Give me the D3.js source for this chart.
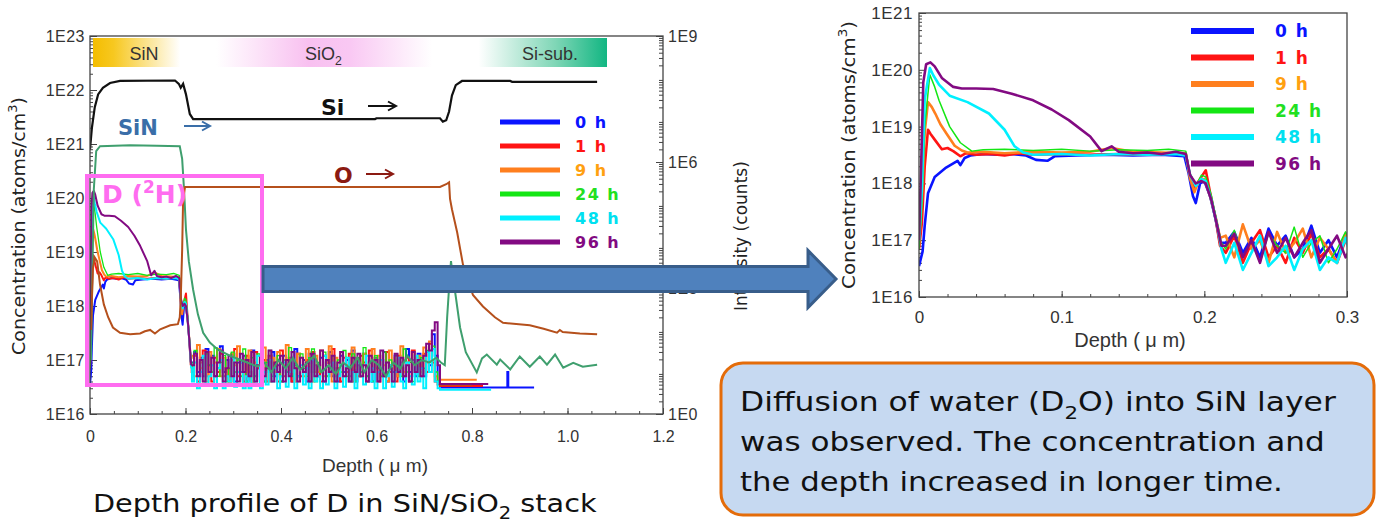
<!DOCTYPE html>
<html>
<head>
<meta charset="utf-8">
<script src="https://cdn.jsdelivr.net/npm/d3@7"></script>
<style>
  body { margin: 0; background: #fff; }
  svg { display: block; }
  .tick text { font-family: "Liberation Sans", Arial, sans-serif; fill: #333; }
  .tick line { stroke: #444; }
</style>
</head>
<body>
<svg id="chart" width="1377" height="522"></svg>
<script>
// ---------- data (depth in um, concentration in atoms/cm3) ----------
const seriesNames = ["0 h", "1 h", "9 h", "24 h", "48 h", "96 h"];
const layerNames = ["SiN", "SiO", "Si-sub."];
const concTicks = [1e16, 1e17, 1e18, 1e19, 1e20, 1e21, 1e22, 1e23];
const intensityTicks = [1, 1e3, 1e6, 1e9];
const depthTicks = [0, 0.2, 0.4, 0.6, 0.8, 1.0, 1.2];
const depthTickLabels = ["0", "0.2", "0.4", "0.6", "0.8", "1.0", "1.2"];
const zoomDepthTicks = [0, 0.1, 0.2, 0.3];
const zoomDepthTickLabels = ["0", "0.1", "0.2", "0.3"];

// D profiles near the surface, 0 - 0.212 um
const d0h = [[0,3.5e16],[0.0025,6.3e16],[0.004,1.8e17],[0.0063,6.7e17],[0.011,1.3e18],[0.019,1.9e18],[0.027,2.5e18],[0.029,2.1e18],[0.032,2.8e18],[0.036,3.1e18],[0.045,3.3e18],[0.055,3.2e18],[0.065,3.3e18],[0.075,3.1e18],[0.082,2.6e18],[0.09,2.5e18],[0.095,3.0e18],[0.11,3.1e18],[0.13,3.2e18],[0.15,3.1e18],[0.17,3.2e18],[0.186,3.0e18],[0.189,1.5e18],[0.192,6e17],[0.194,4.5e17],[0.197,1.0e18],[0.2,1.1e18],[0.204,6e17],[0.208,2.3e17],[0.211,9e16]];
const d1h = [[0,7e16],[0.002,2e17],[0.004,2e18],[0.0063,8.8e18],[0.008,7.5e18],[0.011,5.9e18],[0.016,4e18],[0.02,4.2e18],[0.024,3.7e18],[0.029,3.0e18],[0.033,3.4e18],[0.04,3.2e18],[0.05,3.3e18],[0.06,3.1e18],[0.07,3.4e18],[0.08,3.2e18],[0.1,3.3e18],[0.12,3.2e18],[0.14,3.3e18],[0.16,3.2e18],[0.18,3.4e18],[0.187,3.2e18],[0.19,1.3e18],[0.193,8e17],[0.197,1.2e18],[0.201,1.7e18],[0.204,7e17],[0.208,2.3e17],[0.211,8e16]];
const d9h = [[0,8e16],[0.002,5e17],[0.004,8e18],[0.0063,2.7e19],[0.009,2.2e19],[0.0114,1.7e19],[0.015,1.1e19],[0.019,7.7e18],[0.025,4.6e18],[0.03,3.8e18],[0.034,3.5e18],[0.045,3.6e18],[0.06,3.4e18],[0.08,3.6e18],[0.1,3.5e18],[0.12,3.6e18],[0.135,4.2e18],[0.15,3.6e18],[0.17,3.5e18],[0.187,3.4e18],[0.19,1.2e18],[0.193,7e17],[0.196,1.1e18],[0.2,1.2e18],[0.204,6e17],[0.208,2.5e17],[0.211,1.1e17]];
const d24h = [[0,7e16],[0.002,4e17],[0.004,1e19],[0.0076,8.2e19],[0.011,5e19],[0.014,2.9e19],[0.0215,1e19],[0.029,5.2e18],[0.037,3.7e18],[0.045,3.9e18],[0.06,4.0e18],[0.08,3.8e18],[0.1,4.0e18],[0.12,3.7e18],[0.14,3.9e18],[0.16,3.8e18],[0.175,4.0e18],[0.187,3.7e18],[0.19,1.5e18],[0.194,9e17],[0.198,1.4e18],[0.201,1.3e18],[0.205,6e17],[0.209,2e17],[0.212,9e16]];
const d48h = [[0,1e17],[0.002,8e17],[0.004,3e19],[0.0076,1.07e20],[0.01,8e19],[0.014,5.5e19],[0.0215,3.5e19],[0.034,2.7e19],[0.049,1.7e19],[0.06,8.8e18],[0.067,4.5e18],[0.073,3.5e18],[0.08,3.2e18],[0.1,3.3e18],[0.12,3.1e18],[0.14,3.3e18],[0.16,3.2e18],[0.18,3.3e18],[0.187,3.1e18],[0.19,1.4e18],[0.194,9e17],[0.198,1.2e18],[0.201,1.1e18],[0.205,5e17],[0.209,1.8e17],[0.212,7e16]];
const d96h = [[0,1e17],[0.0015,2e18],[0.003,6e19],[0.005,1.25e20],[0.008,1.35e20],[0.011,1.15e20],[0.016,7.2e19],[0.024,5e19],[0.03,4.7e19],[0.04,4.7e19],[0.052,4.6e19],[0.065,3.8e19],[0.08,2.9e19],[0.093,2.0e19],[0.105,1.3e19],[0.12,6.7e18],[0.128,3.7e18],[0.135,4.5e18],[0.14,3.6e18],[0.15,3.4e18],[0.16,3.5e18],[0.17,3.3e18],[0.18,3.6e18],[0.187,3.3e18],[0.19,1.4e18],[0.194,1e18],[0.198,1.1e18],[0.201,1.0e18],[0.205,5e17],[0.209,1.8e17],[0.212,8e16]];

// background noise in SiO2, read every 0.006 um from 0.215 um (units of 1E16)
const noise0h = [9,14,6,11,5,16,8,12,5,7, 18,6,10,5,13,4,9,6,12,4, 8,15,5,7,11,4,10,6,14,5, 8,4,12,6,9,4,16,5,7,10, 4,13,6,8,5,11,4,9,14,5, 7,4,12,6,10,5,15,4,8,6, 13,5,9,4,11,7,5,14,4,8, 6,12,5,9,4,16,6,10,5,13, 7,5,14,8,30,12,4];
const noise1h = [6,12,4,9,15,5,8,4,11,6, 13,5,7,4,10,16,5,9,4,12, 6,4,14,7,5,10,4,12,6,9, 4,15,5,8,11,4,7,13,5,6, 10,4,14,6,8,4,12,5,9,16, 5,7,4,11,6,13,4,8,5,12, 9,4,15,6,7,4,10,5,14,6, 8,4,12,7,5,11,4,15,6,9, 5,13,6,20,9,4,3.5];
const noise9h = [12,5,19,7,10,4,14,6,9,16, 5,11,7,4,13,8,18,5,10,6, 15,4,9,12,5,17,7,4,11,6, 14,5,8,19,6,10,4,13,7,5, 16,8,4,12,6,15,5,9,18,4, 11,6,14,5,8,4,17,7,10,5, 13,4,9,16,6,12,5,8,4,15, 7,11,5,18,6,9,4,14,8,12, 6,17,9,22,10,5,4.5];
const noise24h = [7,15,5,10,4,13,8,6,17,5, 9,12,4,7,14,6,10,5,16,4, 8,11,5,13,6,4,9,15,5,7, 12,4,10,6,17,5,8,4,13,7, 5,11,16,4,9,6,14,5,7,12, 4,10,6,15,5,8,13,4,11,6, 17,5,9,4,12,7,5,14,6,10, 4,13,8,5,16,6,9,4,12,5, 11,7,15,9,18,6,4];
const noise48h = [4,9,3,6,12,3.5,5,8,3,7, 10,3,5,4,11,3.2,6,9,3,5, 3,8,4,12,3,6,3.5,10,4,7, 3,5,9,3.2,6,11,3,5,8,3.5, 7,3,10,4,5,3,12,3.5,6,9, 3,5,8,3.2,11,4,6,3,9,5, 3.5,12,4,7,3,6,10,3,5,8, 3.2,6,11,4,3,9,5,3.5,12,4, 7,3,14,6,16,4,3];
const noise96h = [8,13,5,10,4,14,6,11,5,9, 15,4,7,12,5,9,4,13,6,10, 5,14,4,8,11,5,7,15,4,9, 6,12,4,10,5,14,7,4,11,6, 9,4,13,5,8,15,4,10,6,12, 4,9,14,5,7,4,11,6,13,5, 8,4,12,6,10,4,15,5,9,7, 4,13,6,11,5,8,4,14,6,10, 5,12,20,15,35,50,8];

// flat tails in the Si substrate
const tail0h = [[0.735,3.1e16],[0.873,3.1e16],[0.875,6e16],[0.877,3.1e16],[0.93,3.1e16]];
const tail1h = [[0.735,3.3e16],[0.823,3.3e16]];
const tail9h = [[0.735,4.3e16],[0.81,4.3e16]];
const tail24h = [[0.735,3.5e16],[0.8,3.5e16]];
const tail48h = [[0.735,2.8e16],[0.84,2.8e16]];
const tail96h = [[0.735,3.6e16],[0.834,3.6e16]];

// matrix signals (plotted on the concentration scale)
const siProfile = [[0,7.9e20],[0.004,2.0e21],[0.01,4.8e21],[0.017,8.3e21],[0.027,1.1e22],[0.042,1.35e22],[0.063,1.47e22],[0.178,1.5e22],[0.186,1.3e22],[0.19,1.1e22],[0.195,1.3e22],[0.201,8.3e21],[0.209,3.6e21],[0.216,2.9e21],[0.597,2.9e21],[0.6,3.0e21],[0.733,3.0e21],[0.739,2.6e21],[0.746,2.75e21],[0.752,4e21],[0.758,7.9e21],[0.766,1.23e22],[0.779,1.47e22],[0.88,1.47e22],[0.884,1.42e22],[1.062,1.42e22]];
const nProfileHead = [[0.002,1e17],[0.004,1.3e18],[0.008,1.45e20],[0.013,7.4e20],[0.021,9.1e20],[0.084,9.5e20],[0.14,9.3e20],[0.188,9.1e20],[0.193,5.3e20],[0.197,1.4e20],[0.201,2.6e19],[0.207,6.7e18],[0.216,2e18],[0.226,7e17],[0.237,3.2e17],[0.251,2.1e17],[0.268,1.55e17],[0.293,1.2e17],[0.325,9.3e16]];
const nNoise = [7.6,9,6,10,7,11,6.5,9,12,6,8,5.5,9,7,11,6,10,8,5,9,7,12,8,10,9,11]; // every 0.015 um from 0.35 um, units 1E16
const nProfileTail = [[0.735,9e16],[0.743,8e16],[0.748,6.3e17],[0.753,3e18],[0.756,6.8e18],[0.76,3.5e18],[0.766,1.5e18],[0.775,4e17],[0.787,1.4e17],[0.81,5.9e16],[0.821,1.07e17],[0.831,1.26e17],[0.852,8.2e16],[0.859,1.02e17],[0.88,6.7e16],[0.9,1.16e17],[0.921,7.5e16],[0.942,1.16e17],[0.957,8.2e16],[0.974,1.26e17],[0.991,7.2e16],[1.012,8.9e16],[1.032,7.5e16],[1.062,8.2e16]];
const oProfile = [[0.002,3.6e17],[0.006,4.8e18],[0.01,7.9e18],[0.015,6.7e18],[0.021,2.5e18],[0.029,1.07e18],[0.038,6.2e17],[0.048,4e17],[0.063,3.2e17],[0.084,3e17],[0.105,3.1e17],[0.115,3.4e17],[0.126,3.6e17],[0.136,3.1e17],[0.147,3.7e17],[0.168,4.4e17],[0.184,4.6e17],[0.188,6.2e17],[0.19,1.3e18],[0.193,1.1e19],[0.195,9.6e19],[0.199,1.6e20],[0.733,1.6e20],[0.746,1.8e20],[0.752,1.95e20],[0.754,9.6e19],[0.758,6.2e19],[0.769,2.3e19],[0.781,5.9e18],[0.802,1.6e18],[0.823,9.8e17],[0.848,6.2e17],[0.865,4.9e17],[0.921,4.4e17],[0.95,3.8e17],[0.978,3.2e17],[0.984,3.6e17],[0.99,3.3e17],[1.026,3.1e17],[1.062,3e17]];

// ---------- styles ----------
const lineColors = ["#0a14ff", "#ff1414", "#ff7f1e", "#14e614", "#00f0ff", "#820a82"];
const textColors = ["#0a14ff", "#ff1414", "#ffa010", "#22e022", "#00e0f0", "#820a82"];
const sansFont = '"DejaVu Sans", Verdana, sans-serif';

function noisePoints(noise) {
  return noise.map((v, i) => [0.215 + i * 0.006, v * 1e16]);
}
const heads = [d0h, d1h, d9h, d24h, d48h, d96h];
const noises = [noise0h, noise1h, noise9h, noise24h, noise48h, noise96h];
const tails = [tail0h, tail1h, tail9h, tail24h, tail48h, tail96h];
const nProfile = nProfileHead.concat(nNoise.map((v, i) => [0.35 + i * 0.015, v * 1e16]), nProfileTail);

const svg = d3.select("#chart");
const defs = svg.append("defs");

function richText(parent, parts, size) {
  const t = parent.append("text").attr("font-size", size);
  let off = 0;
  parts.forEach(([txt, kind]) => {
    const target = kind === "sub" ? size * 0.28 : kind === "sup" ? -size * 0.42 : 0;
    t.append("tspan").attr("dy", target - off).attr("font-size", kind ? size * 0.68 : size).text(txt);
    off = target;
  });
  return t;
}
function fit(t, width) {
  const w = t.node().getComputedTextLength();
  t.attr("transform", `scale(${width / w},1)`);
}
function minorLog(lo, hi) {
  const out = [];
  for (let e = lo; e < hi; e++) for (let m = 2; m <= 9; m++) out.push(m * Math.pow(10, e));
  return out;
}
const expFmt = d => "1E" + Math.round(Math.log10(d));

// ================= left chart =================
const L = { x0: 90, x1: 663, y0: 36, y1: 414 };
const xL = d3.scaleLinear().domain([0, 1.2]).range([L.x0, L.x1]);
const yL = d3.scaleLog().domain([1e16, 1e23]).range([L.y1, L.y0]);
const yI = d3.scaleLog().domain([1, 1e9]).range([L.y1, L.y0]);

defs.append("clipPath").attr("id", "clipL").append("rect")
  .attr("x", L.x0).attr("y", L.y0).attr("width", L.x1 - L.x0).attr("height", L.y1 - L.y0);

// layer band
const grad = defs.append("linearGradient").attr("id", "layerGrad");
[[0, "#f4bd00"], [0.04, "#f7c820"], [0.17, "#ffffff"], [0.24, "#ffffff"], [0.42, "#f8c0f0"], [0.5, "#f9c8f3"],
 [0.66, "#ffffff"], [0.75, "#ffffff"], [0.9, "#7fd6b6"], [1, "#12b682"]]
  .forEach(s => grad.append("stop").attr("offset", s[0]).attr("stop-color", s[1]));
svg.append("rect").attr("x", 93).attr("y", 38).attr("width", 514).attr("height", 29).attr("fill", "url(#layerGrad)");
const bandText = svg.append("g").attr("font-family", '"Liberation Sans", Arial, sans-serif').attr("fill", "#333");
bandText.append("text").attr("x", 144).attr("y", 60).attr("font-size", 18).attr("text-anchor", "middle").text(layerNames[0]);
const sio = bandText.append("g").attr("transform", "translate(305,60)");
richText(sio, [[layerNames[1]], ["2", "sub"]], 18);
bandText.append("text").attr("x", 550).attr("y", 60).attr("font-size", 18).attr("text-anchor", "middle").text(layerNames[2]);

// axes
const gAxL = svg.append("g").attr("transform", `translate(${L.x0},0)`);
gAxL.call(d3.axisLeft(yL).tickValues(concTicks).tickFormat(expFmt).tickSizeInner(-7).tickSizeOuter(0).tickPadding(5));
gAxL.append("g").call(d3.axisLeft(yL).tickValues(minorLog(16, 23)).tickFormat("").tickSizeInner(-3).tickSizeOuter(0));
gAxL.selectAll(".tick text").attr("font-size", 16).attr("letter-spacing", 0.5);

const gAxR = svg.append("g").attr("transform", `translate(${L.x1},0)`);
gAxR.call(d3.axisRight(yI).tickValues(intensityTicks).tickFormat(expFmt).tickSizeInner(-7).tickSizeOuter(0).tickPadding(5));
gAxR.append("g").call(d3.axisRight(yI).tickValues(minorLog(0, 9)).tickFormat("").tickSizeInner(-4).tickSizeOuter(0));
gAxR.selectAll(".tick text").attr("font-size", 16).attr("letter-spacing", 0.5);

const gAxB = svg.append("g").attr("transform", `translate(0,${L.y1})`);
gAxB.call(d3.axisBottom(xL).tickValues(depthTicks).tickFormat((d, i) => depthTickLabels[i]).tickSizeInner(-6).tickSizeOuter(0).tickPadding(17));
gAxB.append("g").call(d3.axisBottom(xL).tickValues(d3.range(1, 24).map(i => i * 0.05)).tickFormat("").tickSizeInner(-3).tickSizeOuter(0));
gAxB.selectAll(".tick text").attr("font-size", 16);
svg.selectAll(".domain").remove();

// curves: smooth near the surface, stepped through the noisy SiO2 background
const lineL = d3.line().x(d => xL(d[0])).y(d => yL(d[1]));
const stepL = d3.line().x(d => xL(d[0])).y(d => yL(d[1])).curve(d3.curveStep);
const plotL = svg.append("g").attr("clip-path", "url(#clipL)").attr("fill", "none");
heads.forEach((h, i) => {
  const w = i === 3 ? 1.3 : 2;
  plotL.append("path").attr("d", stepL([h[h.length - 1]].concat(noisePoints(noises[i]), tails[i])))
    .attr("stroke", lineColors[i]).attr("stroke-width", w);
  plotL.append("path").attr("d", lineL(h))
    .attr("stroke", lineColors[i]).attr("stroke-width", w).attr("stroke-linejoin", "round");
});
plotL.append("path").attr("d", lineL(nProfile)).attr("stroke", "#3f9f6e").attr("stroke-width", 2);
plotL.append("path").attr("d", lineL(oProfile)).attr("stroke", "#b5501c").attr("stroke-width", 2);
plotL.append("path").attr("d", lineL(siProfile)).attr("stroke", "#111").attr("stroke-width", 2.2);

svg.append("rect").attr("x", L.x0).attr("y", L.y0).attr("width", L.x1 - L.x0).attr("height", L.y1 - L.y0)
  .attr("fill", "none").attr("stroke", "#444").attr("stroke-width", 1.3);

// annotations
function arrowRight(x1, x2, y, color) {
  svg.append("path").attr("d", `M${x1},${y}H${x2}M${x2 - 8},${y - 4.5}L${x2},${y}L${x2 - 8},${y + 4.5}`)
    .attr("fill", "none").attr("stroke", color).attr("stroke-width", 2);
}
svg.append("text").attr("x", 118).attr("y", 135).attr("font-family", sansFont).attr("font-weight", "bold")
  .attr("font-size", 21).attr("fill", "#3a6ea8").text("SiN");
arrowRight(184, 210, 126, "#3a6ea8");
svg.append("text").attr("x", 321).attr("y", 115).attr("font-family", sansFont).attr("font-weight", "bold")
  .attr("font-size", 22).attr("fill", "#111").text("Si");
arrowRight(368, 396, 106, "#111");
svg.append("text").attr("x", 334).attr("y", 183).attr("font-family", sansFont).attr("font-weight", "bold")
  .attr("font-size", 22).attr("fill", "#8b1a12").text("O");
arrowRight(366, 393, 174, "#8b1a12");

svg.append("rect").attr("x", 87).attr("y", 176).attr("width", 175).attr("height", 209)
  .attr("fill", "none").attr("stroke", "#ff6cf0").attr("stroke-width", 4);
const dh = svg.append("g").attr("transform", "translate(102,203)").attr("font-family", sansFont)
  .attr("font-weight", "bold").attr("fill", "#ff6cf0");
richText(dh, [["D ("], ["2", "sup"], ["H)"]], 25);

// legend left
const legL = svg.append("g");
seriesNames.forEach((s, i) => {
  const y = 122 + i * 24;
  legL.append("line").attr("x1", 500).attr("x2", 560).attr("y1", y).attr("y2", y)
    .attr("stroke", lineColors[i]).attr("stroke-width", 5);
  legL.append("text").attr("x", 575).attr("y", y + 6).attr("font-family", sansFont).attr("font-weight", "bold")
    .attr("font-size", 16).attr("letter-spacing", 1.5).attr("fill", textColors[i]).text(s);
});

// axis titles
const yTitleL = svg.append("g").attr("transform", "translate(25,226) rotate(-90)")
  .attr("font-family", sansFont).attr("fill", "#222").attr("text-anchor", "middle");
fit(richText(yTitleL, [["Concentration (atoms/cm"], ["3", "sup"], [")"]], 18), 258);
const iTitle = svg.append("g").attr("transform", "translate(747,311) rotate(-90)")
  .attr("font-family", sansFont).attr("fill", "#222");
fit(iTitle.append("text").attr("font-size", 17).text("Intensity (counts)"), 150);
svg.append("text").attr("x", 375).attr("y", 472).attr("text-anchor", "middle")
  .attr("font-family", '"Liberation Sans", Arial, sans-serif').attr("font-size", 19).attr("fill", "#333").text("Depth ( μ m)");
const cap = svg.append("g").attr("transform", "translate(93,512)").attr("font-family", sansFont).attr("fill", "#111");
fit(richText(cap, [["Depth profile of D in SiN/SiO"], ["2", "sub"], [" stack"]], 25), 504);

// ================= right (zoomed) chart =================
const Z = { x0: 919, x1: 1347, y0: 13, y1: 297 };
const xZ = d3.scaleLinear().domain([0, 0.3]).range([Z.x0, Z.x1]);
const yZ = d3.scaleLog().domain([1e16, 1e21]).range([Z.y1, Z.y0]);
defs.append("clipPath").attr("id", "clipZ").append("rect")
  .attr("x", Z.x0).attr("y", Z.y0).attr("width", Z.x1 - Z.x0).attr("height", Z.y1 - Z.y0);

const gZL = svg.append("g").attr("transform", `translate(${Z.x0},0)`);
gZL.call(d3.axisLeft(yZ).tickValues(concTicks.slice(0, 6)).tickFormat(expFmt).tickSizeInner(-7).tickSizeOuter(0).tickPadding(6));
gZL.append("g").call(d3.axisLeft(yZ).tickValues(minorLog(16, 21)).tickFormat("").tickSizeInner(-3).tickSizeOuter(0));
gZL.selectAll(".tick text").attr("font-size", 17).attr("letter-spacing", 0.5);
const gZB = svg.append("g").attr("transform", `translate(0,${Z.y1})`);
gZB.call(d3.axisBottom(xZ).tickValues(zoomDepthTicks).tickFormat((d, i) => zoomDepthTickLabels[i]).tickSizeInner(-6).tickSizeOuter(0).tickPadding(14));
gZB.append("g").call(d3.axisBottom(xZ).tickValues(d3.range(1, 15).map(i => i * 0.02)).tickFormat("").tickSizeInner(-3).tickSizeOuter(0));
gZB.selectAll(".tick text").attr("font-size", 17);
svg.selectAll(".domain").remove();

const lineZ = d3.line().x(d => xZ(d[0])).y(d => yZ(d[1]));
const plotZ = svg.append("g").attr("clip-path", "url(#clipZ)").attr("fill", "none");
heads.forEach((h, i) => {
  const pts = h.concat(noisePoints(noises[i])).filter(d => d[0] <= 0.31);
  plotZ.append("path").attr("d", lineZ(pts))
    .attr("stroke", lineColors[i]).attr("stroke-width", i === 3 ? 1.5 : 2.6).attr("stroke-linejoin", "round");
});
svg.append("rect").attr("x", Z.x0).attr("y", Z.y0).attr("width", Z.x1 - Z.x0).attr("height", Z.y1 - Z.y0)
  .attr("fill", "none").attr("stroke", "#444").attr("stroke-width", 1.3);

const legZ = svg.append("g");
seriesNames.forEach((s, i) => {
  const y = 31 + i * 26.5;
  legZ.append("line").attr("x1", 1191).attr("x2", 1254).attr("y1", y).attr("y2", y)
    .attr("stroke", lineColors[i]).attr("stroke-width", 6);
  legZ.append("text").attr("x", 1275).attr("y", y + 6).attr("font-family", sansFont).attr("font-weight", "bold")
    .attr("font-size", 17).attr("letter-spacing", 1.5).attr("fill", textColors[i]).text(s);
});

const yTitleZ = svg.append("g").attr("transform", "translate(855,155) rotate(-90)")
  .attr("font-family", sansFont).attr("fill", "#222").attr("text-anchor", "middle");
fit(richText(yTitleZ, [["Concentration (atoms/cm"], ["3", "sup"], [")"]], 18), 268);
svg.append("text").attr("x", 1130).attr("y", 347).attr("text-anchor", "middle")
  .attr("font-family", '"Liberation Sans", Arial, sans-serif').attr("font-size", 20).attr("fill", "#333").text("Depth ( μ m)");

// ================= block arrow =================
svg.append("path")
  .attr("d", "M263,266.5H808V250.5L836,279L808,307.5V291.5H263Z")
  .attr("fill", "#4f81bd").attr("stroke", "#385d8a").attr("stroke-width", 3).attr("stroke-linejoin", "miter");

// ================= text box =================
svg.append("rect").attr("x", 721).attr("y", 363).attr("width", 653).attr("height", 152).attr("rx", 22)
  .attr("fill", "#c6d9f1").attr("stroke", "#e46c0a").attr("stroke-width", 3);
const boxLines = [
  { parts: [["Diffusion of water (D"], ["2", "sub"], ["O) into SiN layer"]], y: 411, w: 596 },
  { parts: [["was observed. The concentration and"]], y: 451, w: 585 },
  { parts: [["the depth increased in longer time."]], y: 491, w: 543 }
];
boxLines.forEach(l => {
  const g = svg.append("g").attr("transform", `translate(740,${l.y})`).attr("font-family", sansFont).attr("fill", "#111");
  fit(richText(g, l.parts, 27), l.w);
});
</script>
</body>
</html>
